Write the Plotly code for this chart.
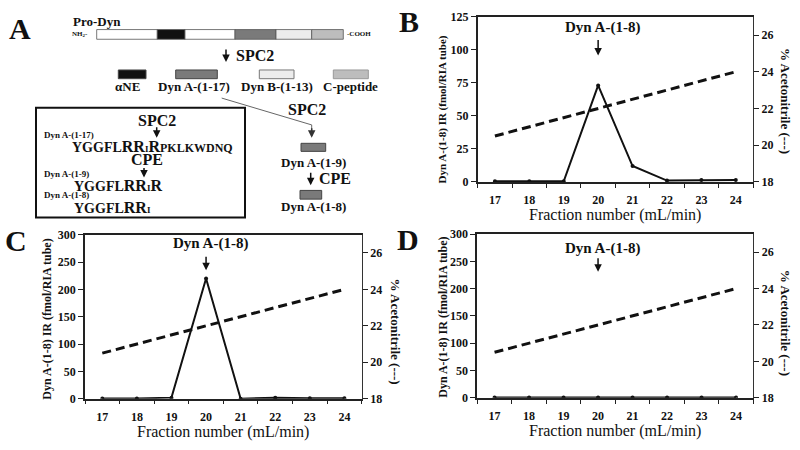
import plotly.graph_objects as go

W, H = 800, 450
SERIF = "Liberation Serif, DejaVu Serif, serif"

# ---------------- data ----------------
fractions = [17, 18, 19, 20, 21, 22, 23, 24]
ir_B = [0.5, 0.5, 0.5, 73, 12, 1, 1.5, 1.5]
ir_C = [0.5, 0.5, 2, 220, 0, 2, 1, 1]
ir_D = [0.5, 0.5, 0.5, 0.5, 0.5, 0.5, 0.5, 0.5]
acetonitrile = [20.5, 21, 21.5, 22, 22.5, 23, 23.5, 24]
x_ticks = [17, 18, 19, 20, 21, 22, 23, 24]
y_ticks_B = [0, 25, 50, 75, 100, 125]
y_ticks_CD = [0, 50, 100, 150, 200, 250, 300]
acn_ticks = [18, 20, 22, 24, 26]


def fx(px):
    return px / W


def fy(py):
    return 1 - py / H


fig = go.Figure()

panels = [
    ("B", ir_B, "x", "y", "y2", (477.7, 753), (10, 180.5), 125, y_ticks_B),
    ("C", ir_C, "x2", "y3", "y4", (85, 361.7), (235, 404.3), 300, y_ticks_CD),
    ("D", ir_D, "x3", "y5", "y6", (477.3, 753.3), (234.3, 403.3), 300, y_ticks_CD),
]

layout_axes = {}
annotations = []
shapes = []

tickfont = dict(family=SERIF, size=12, color="#111", weight="bold")


def ann(**kw):
    kw.setdefault("xanchor", "center")
    kw.setdefault("yanchor", "middle")
    annotations.append(kw)


for name, ir, xa, yl, yr, (x0, x1), (yt, yb), ymax, yticks in panels:
    fig.add_trace(go.Scatter(x=fractions, y=ir, xaxis=xa, yaxis=yl, mode="lines+markers",
                             line=dict(color="#111", width=2), marker=dict(size=4, color="#111"),
                             showlegend=False, hoverinfo="skip"))
    fig.add_trace(go.Scatter(x=fractions, y=acetonitrile, xaxis=xa, yaxis=yr, mode="lines",
                             line=dict(color="#111", width=3, dash="9px,5px"), showlegend=False,
                             hoverinfo="skip"))
    xkey = "xaxis" + xa[1:]
    ylkey = "yaxis" + yl[1:]
    yrkey = "yaxis" + yr[1:]
    layout_axes[xkey] = dict(domain=[fx(x0), fx(x1)], anchor=yl, range=[16.5, 24.5],
                             tickvals=x_ticks, ticks="", showgrid=False, zeroline=False,
                             showline=True, linecolor="#222", linewidth=1.5, mirror=True,
                             tickfont=dict(family=SERIF, size=12, color="#111", weight="bold"),
                             ticklabelstandoff=6,
                             minor=dict(tickmode="linear", tick0=16.5, dtick=1, ticks="outside",
                                        ticklen=4, tickcolor="#222", showgrid=False))
    layout_axes[ylkey] = dict(domain=[fy(yb), fy(yt)], anchor=xa, range=[0, ymax], tickvals=yticks,
                              ticks="outside", ticklen=5, tickcolor="#222", showgrid=False,
                              zeroline=False, showline=True, linecolor="#222", linewidth=1.8,
                              tickfont=tickfont)
    layout_axes[yrkey] = dict(overlaying=yl, side="right", anchor=xa, range=[18, 27],
                              tickvals=acn_ticks, ticks="outside", ticklen=5, tickcolor="#222",
                              showgrid=False, zeroline=False, showline=True, linecolor="#333",
                              linewidth=1.2, tickfont=tickfont)
    ann(text="Fraction number (mL/min)", x=fx((x0 + x1) / 2), y=fy(yb + 34),
        xref="paper", yref="paper", showarrow=False,
        font=dict(family=SERIF, size=16, color="#111"))

for px, pyc, size in [(442.7, 106, 11), (46.7, 322, 12), (442.7, 320, 12)]:
    ann(text="Dyn A-(1-8) IR (fmol/RIA tube)", x=fx(px), y=fy(pyc),
        xref="paper", yref="paper", showarrow=False, textangle=-90,
        font=dict(family=SERIF, size=size, color="#111", weight="bold"))
for px, pyc in [(785, 97), (395, 335), (785, 326)]:
    ann(text="% Acetonitrile (---)", x=fx(px), y=fy(pyc),
        xref="paper", yref="paper", showarrow=False, textangle=90,
        font=dict(family=SERIF, size=13, color="#111", weight="bold"))

for xa, yl, ty, tip, tail_len in [("x", "y", 117, 95.7, 17), ("x2", "y3", 284, 235, 15),
                                  ("x3", "y5", 274, 231, 15)]:
    ann(text="Dyn A-(1-8)", x=20, y=ty, xref=xa, yref=yl, xshift=4, showarrow=False,
        font=dict(family=SERIF, size=15, color="#111", weight="bold"))
    annotations.append(dict(text="", x=20, y=tip, xref=xa, yref=yl, ax=0, ay=-tail_len,
                            showarrow=True, arrowhead=2, arrowsize=1, arrowwidth=1.5,
                            arrowcolor="#111"))

for letter, px, py in [("A", 20, 22), ("B", 409, 15), ("C", 16, 241), ("D", 408, 240)]:
    ann(text=letter, x=fx(px), y=fy(py), xref="paper", yref="paper", showarrow=False,
        font=dict(family=SERIF, size=30, color="#111", weight="bold"))


# ---------------- panel A diagram ----------------
def rect(x0, y0, x1, y1, fill, line="#444", lw=1):
    shapes.append(dict(type="rect", xref="paper", yref="paper", x0=fx(x0), x1=fx(x1),
                       y0=fy(y1), y1=fy(y0), fillcolor=fill, line=dict(color=line, width=lw)))


def text(s, px, py, size, bold=True, anchor="center"):
    f = dict(family=SERIF, size=size, color="#111")
    if bold:
        f["weight"] = "bold"
    ann(text=s, x=fx(px), y=fy(py), xref="paper", yref="paper", showarrow=False,
        xanchor=anchor, font=f)


def arrow(px, py_tail, py_tip, color="#111"):
    annotations.append(dict(text="", x=fx(px), y=fy(py_tip), xref="paper", yref="paper",
                            ax=0, ay=-(py_tip - py_tail), showarrow=True, arrowhead=2,
                            arrowsize=1, arrowwidth=1.5, arrowcolor=color))


text("Pro-Dyn", 97, 15, 13)
text("NH<sub>2</sub>-", 70, 28, 7, anchor="left")
segments = [(96.7, 157.3, "#ffffff"), (157.3, 185, "#111111"), (185, 235, "#ffffff"),
            (235, 276, "#7a7a7a"), (276, 311.7, "#ececec"), (311.7, 343.3, "#bdbdbd")]
for a, b, c in segments:
    rect(a, 23.3, b, 33.3, c, line="#555", lw=0.8)
text("-COOH", 345, 28, 7, anchor="left")
arrow(226, 42.7, 56.7)
text("SPC2", 255, 50, 16)

rect(118.3, 65, 146, 74, "#111111")
rect(175.7, 65, 217.3, 74, "#7a7a7a")
rect(259.3, 65, 294, 74, "#ececec", line="#777")
rect(333.3, 65, 368.3, 74, "#bdbdbd", line="#999")
text("αNE", 127.3, 82, 13)
text("Dyn A-(1-17)", 194, 82, 13)
text("Dyn B-(1-13)", 276.7, 82, 13)
text("C-peptide", 350, 82, 13)

shapes.append(dict(type="path", xref="paper", yref="paper",
                   path=f"M {fx(221.7)},{fy(94)} L {fx(311.7)},{fy(121.7)} L {fx(311.7)},{fy(128)}",
                   line=dict(color="#666", width=1)))
arrow(311.7, 124, 135, color="#333")
text("SPC2", 307, 106, 16)
rect(301, 140.7, 325.7, 149, "#7a7a7a")
text("Dyn A-(1-9)", 313.3, 160, 13)
arrow(310.7, 170, 184)
text("CPE", 335, 177.3, 16)
rect(300, 189.3, 321.7, 198.3, "#7a7a7a")
text("Dyn A-(1-8)", 313, 206, 13)

rect(36, 104, 245, 217.3, "rgba(0,0,0,0)", line="#111", lw=2)
text("SPC2", 156.7, 116.7, 16)
arrow(156.7, 123, 135)
text("Dyn A-(1-17)", 41.7, 132.3, 9, anchor="left")
big = "<span style='font-size:16px'>"
sm = "<span style='font-size:9px'>"
text("YGGFL" + big + "RR</span>" + sm + "I</span>" + big + "R</span>"
     + "<span style='font-size:12px'>PKLKWDNQ</span>", 70, 143.5, 14, anchor="left")
text("CPE", 146.7, 157.5, 16)
arrow(144, 165, 176)
text("Dyn A-(1-9)", 41.7, 172.3, 9, anchor="left")
text("YGGFL" + big + "RR</span>" + sm + "I</span>" + big + "R</span>", 71.7, 184, 14,
     anchor="left")
text("Dyn A-(1-8)", 41.7, 194, 9, anchor="left")
text("YGGFL" + big + "RR</span>" + sm + "I</span>", 71.7, 207, 14, anchor="left")

fig.update_layout(width=W, height=H, margin=dict(l=0, r=0, t=0, b=0),
                  paper_bgcolor="white", plot_bgcolor="white", showlegend=False,
                  hovermode=False, annotations=annotations, shapes=shapes, **layout_axes)

fig.write_html("out.html", config={"displayModeBar": False},
               post_script="document.body.style.margin='0px';")
